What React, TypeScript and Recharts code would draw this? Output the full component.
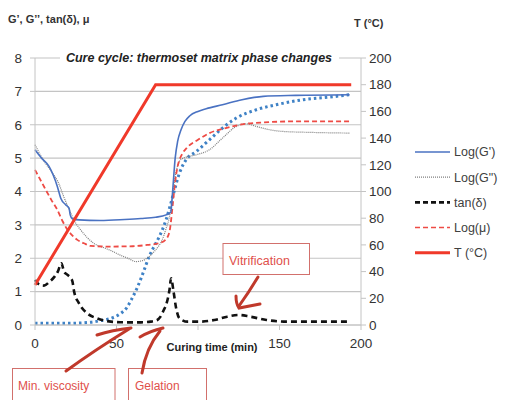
import React from "react";
import { ComposedChart, Line, XAxis, YAxis, CartesianGrid } from "recharts";

// Curing time (min) and values for each series
const gPrimeTime = [0, 4, 8.6, 13.7, 15.8, 18.9, 20.9, 21.6, 23, 27, 40, 55, 65, 74, 80.4, 83.3, 84.5, 86, 87.5, 89.6, 92, 95, 100, 105, 115, 127, 140, 160, 193];
const gPrimeVal = [5.25, 5.0, 4.75, 4.15, 3.8, 3.6, 3.5, 3.3, 3.18, 3.15, 3.13, 3.16, 3.19, 3.23, 3.3, 3.38, 4.05, 5.0, 5.5, 5.85, 6.1, 6.27, 6.4, 6.48, 6.6, 6.75, 6.85, 6.88, 6.9];

const gSecTime = [0, 5, 10, 14, 18, 22, 25, 28, 32, 36, 42, 47, 52, 57, 62, 66, 70, 74, 78, 80.5, 82.5, 84.5, 86.6, 88.6, 91, 99, 107, 115, 123.5, 129.6, 135.8, 144, 152, 170, 193];
const gSecVal = [5.4, 4.95, 4.6, 4.3, 3.8, 3.35, 3.05, 2.85, 2.62, 2.45, 2.32, 2.22, 2.1, 2.0, 1.9, 1.93, 2.05, 2.25, 2.55, 2.9, 3.25, 3.95, 4.6, 4.9, 5.0, 5.1, 5.25, 5.6, 5.95, 6.03, 5.95, 5.85, 5.8, 5.77, 5.75];

const muTime = [0, 5.5, 10, 13.7, 17, 20, 23, 26, 30, 34, 45, 60, 69, 76, 80, 82.5, 84.5, 86, 87.5, 90, 93, 100, 107, 117, 128, 140, 160, 193];
const muVal = [4.65, 4.15, 3.75, 3.45, 3.1, 2.85, 2.68, 2.55, 2.45, 2.37, 2.35, 2.36, 2.4, 2.45, 2.55, 2.8, 3.6, 4.3, 4.75, 5.1, 5.3, 5.55, 5.75, 5.9, 6.02, 6.07, 6.1, 6.1];

const dotTime = [0, 20, 34, 40, 46.6, 52.7, 56, 59, 63, 67, 70, 73, 76.3, 80.4, 84.5, 88.6, 92.7, 99, 107, 115, 123.5, 135.8, 148, 164.5, 181, 193];
const dotVal = [0.05, 0.05, 0.08, 0.13, 0.2, 0.35, 0.5, 0.75, 1.15, 1.65, 2.05, 2.35, 2.65, 3.15, 3.85, 4.55, 4.95, 5.2, 5.55, 5.9, 6.2, 6.45, 6.6, 6.75, 6.83, 6.9];

const tanTime = [0, 3, 5.5, 9, 12, 14, 16.2, 17.8, 20, 22, 23, 24, 27, 32, 38, 46.6, 55, 65, 71, 75, 77, 79, 80.4, 82.5, 83.5, 85, 86.6, 88.6, 93.7, 101, 110, 118, 125, 132, 142, 155, 193];
const tanVal = [1.35, 1.2, 1.18, 1.3, 1.45, 1.6, 1.85, 1.6, 1.5, 1.4, 1.3, 1.0, 0.65, 0.35, 0.2, 0.1, 0.08, 0.08, 0.1, 0.15, 0.25, 0.45, 0.6, 1.05, 1.4, 1.0, 0.5, 0.2, 0.1, 0.1, 0.15, 0.25, 0.3, 0.25, 0.15, 0.1, 0.1];

const tempTime = [0, 74, 194];
const tempVal = [30, 180, 180];

const leftTicks = [0, 1, 2, 3, 4, 5, 6, 7, 8];
const rightTicks = [0, 20, 40, 60, 80, 100, 120, 140, 160, 180, 200];
const xTicks = [0, 50, 100, 150, 200];

const zip = (ts: number[], vs: number[]) => ts.map((t, i) => ({ t, v: vs[i] }));

const FONT = '"Liberation Sans", Arial, sans-serif';

const legendItems = [
  { name: "Log(G')", color: "#4a72c2", width: 1.5, dash: undefined as string | undefined },
  { name: "Log(G\")", color: "#7f7f7f", width: 1.2, dash: "1 1" },
  { name: "tan(\u03b4)", color: "#111111", width: 2.6, dash: "5 3" },
  { name: "Log(\u03bc)", color: "#ee4b45", width: 1.5, dash: "5 3" },
  { name: "T (\u00b0C)", color: "#f0392a", width: 3, dash: undefined },
];

const XTick = (props: any) => {
  const { x, y, payload } = props;
  if (payload.value === 100) return null;
  return (
    <text x={x} y={y} dy="0.71em" textAnchor="middle" fontSize={13.5} fill="#333" fontFamily={FONT}>
      {payload.value}
    </text>
  );
};

export default function App() {
  return (
    <div style={{ position: "absolute", left: 0, top: 0, width: 505, height: 400, background: "#fff", fontFamily: FONT }}>
      <ComposedChart width={505} height={400} margin={{ top: 58, right: 104, bottom: 45, left: 0 }}>
        <CartesianGrid yAxisId="left" vertical={false} stroke="#c4c4c4" strokeWidth={1.2} />
        <XAxis
          dataKey="t"
          type="number"
          domain={[0, 200]}
          ticks={xTicks}
          height={30}
          tickSize={5}
          tickMargin={8}
          axisLine={{ stroke: "#c4c4c4" }}
          tickLine={{ stroke: "#c4c4c4" }}
          tick={<XTick />}
          allowDuplicatedCategory={false}
        />
        <YAxis
          yAxisId="left"
          domain={[0, 8]}
          ticks={leftTicks}
          width={35}
          tickSize={5}
          tickMargin={8}
          axisLine={{ stroke: "#c4c4c4" }}
          tickLine={{ stroke: "#c4c4c4" }}
          tick={{ fontSize: 13.5, fill: "#333", fontFamily: FONT }}
        />
        <YAxis
          yAxisId="right"
          orientation="right"
          domain={[0, 200]}
          ticks={rightTicks}
          width={40}
          tickSize={5}
          tickMargin={3}
          axisLine={{ stroke: "#c4c4c4" }}
          tickLine={{ stroke: "#c4c4c4" }}
          tick={{ fontSize: 13.5, fill: "#333", fontFamily: FONT, textAnchor: "start" }}
        />
        <Line yAxisId="left" data={zip(dotTime, dotVal)} dataKey="v" name="Series 6" type="monotone" stroke="#3f82c6" strokeWidth={3} strokeDasharray="2.5 3" dot={false} isAnimationActive={false} legendType="none" />
        <Line yAxisId="left" data={zip(gSecTime, gSecVal)} dataKey="v" name="Log(G&quot;)" type="monotone" stroke="#7f7f7f" strokeWidth={1.2} strokeDasharray="1 1" dot={false} isAnimationActive={false} />
        <Line yAxisId="left" data={zip(muTime, muVal)} dataKey="v" name="Log(μ)" type="monotone" stroke="#ee4b45" strokeWidth={1.8} strokeDasharray="5 3" dot={false} isAnimationActive={false} />
        <Line yAxisId="left" data={zip(gPrimeTime, gPrimeVal)} dataKey="v" name="Log(G')" type="monotone" stroke="#4a72c2" strokeWidth={1.6} dot={false} isAnimationActive={false} />
        <Line yAxisId="left" data={zip(tanTime, tanVal)} dataKey="v" name="tan(δ)" type="monotone" stroke="#111" strokeWidth={2.6} strokeDasharray="6 4" dot={false} isAnimationActive={false} />
        <Line yAxisId="right" data={zip(tempTime, tempVal)} dataKey="v" name="T (°C)" type="linear" stroke="#f0392a" strokeWidth={3} dot={false} isAnimationActive={false} />
      </ComposedChart>
      <svg width={505} height={400} style={{ position: "absolute", left: 0, top: 0, pointerEvents: "none" }}>
        <text x={8} y={19} dy="0.35em" fontSize={11} fontWeight="bold" fill="#333" fontFamily={FONT}>G’, G’’, tan(δ), μ</text>
        <text x={354} y={23} dy="0.35em" fontSize={11} fontWeight="bold" fill="#333" fontFamily={FONT}>T (°C)</text>
        <rect x={60} y={50} width={279} height={17} fill="#fff" />
        <text x={199} y={58} dy="0.35em" textAnchor="middle" fontSize={12.5} fontWeight="bold" fontStyle="italic" fill="#222" fontFamily={FONT}>
          Cure cycle: thermoset matrix phase changes
        </text>
        <rect x={162} y={338} width={100} height={18} fill="#fff" />
        <text x={212} y={347} dy="0.35em" textAnchor="middle" fontSize={11} fontWeight="bold" fill="#222" fontFamily={FONT}>Curing time (min)</text>

        <g transform="translate(410,140)">
          {legendItems.map((it, i) => {
            const y = 12 + i * 25.2;
            return (
              <g key={it.name}>
                <line x1={5} x2={40} y1={y} y2={y} stroke={it.color} strokeWidth={it.width} strokeDasharray={it.dash} />
                <text x={44} y={y} dy="0.35em" fontSize={12.5} fill="#404040" fontFamily={FONT}>{it.name}</text>
              </g>
            );
          })}
        </g>

        <rect x={223} y={243.5} width={86.5} height={31} fill="#fff" stroke="#d2706c" strokeWidth={1} />
        <text x={229} y={261} dy="0.35em" fontSize={12.5} fill="#e0504b" fontFamily={FONT}>Vitrification</text>
        <rect x={12.5} y={368.5} width={102.5} height={40} fill="#fff" stroke="#d2706c" strokeWidth={1} />
        <text x={18} y={386} dy="0.35em" fontSize={12} fill="#e0504b" fontFamily={FONT}>Min. viscosity</text>
        <rect x={128.5} y={368.5} width={78} height={40} fill="#fff" stroke="#d2706c" strokeWidth={1} />
        <text x={135} y={386} dy="0.35em" fontSize={12} fill="#e0504b" fontFamily={FONT}>Gelation</text>

        <g stroke="#c0392b" strokeWidth={3} fill="none" strokeLinecap="round">
          <path d="M66,371 Q95,350 129,329" />
          <path d="M97,335 Q112,330 131,328" />
          <path d="M142,373 Q146,348 160,331" />
          <path d="M140,337 Q150,331 163,328" />
          <path d="M258,277 Q249,292 239,306" />
          <path d="M236,296 Q236,304 239,308 L260,304" />
        </g>
      </svg>
    </div>
  );
}
